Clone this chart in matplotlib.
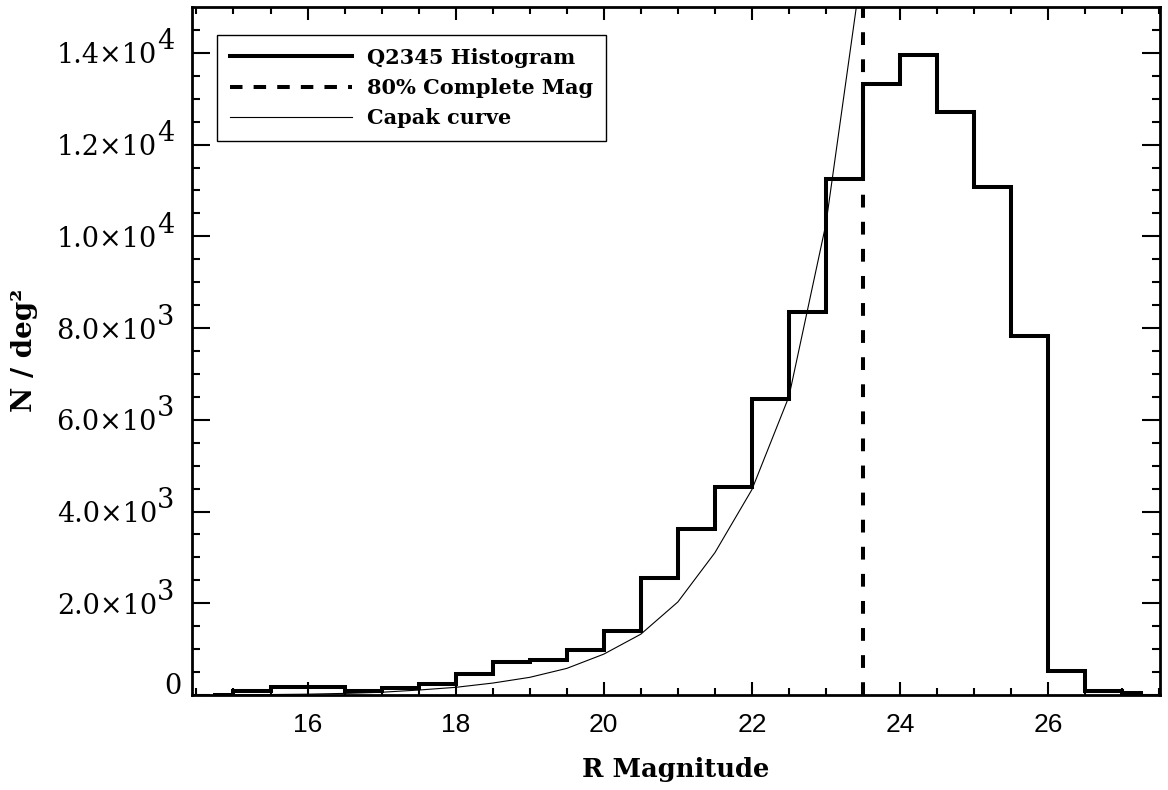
import matplotlib
matplotlib.use("Agg")
import matplotlib.pyplot as plt
from matplotlib.lines import Line2D
from matplotlib.transforms import ScaledTranslation

# ---------------- data ----------------
mag_centers = [14.75, 15.25, 15.75, 16.25, 16.75, 17.25, 17.75, 18.25, 18.75,
               19.25, 19.75, 20.25, 20.75, 21.25, 21.75, 22.25, 22.75, 23.25,
               23.75, 24.25, 24.75, 25.25, 25.75, 26.25, 26.75, 27.25]
counts = [0, 80, 165, 165, 90, 160, 239, 456, 724,
          767, 975, 1390, 2543, 3630, 4528, 6450, 8355, 11260,
          13320, 13957, 12717, 11072, 7830, 528, 80, 40]

capak_mag = [15.0, 15.5, 16.0, 16.5, 17.0, 17.5, 18.0, 18.5, 19.0, 19.5,
             20.0, 20.5, 21.0, 21.5, 22.0, 22.5, 23.0, 23.5]
capak_n = [5, 10, 18, 35, 60, 108, 167, 260, 385, 580,
           891, 1326, 2028, 3102, 4478, 6507, 10275, 16040]

complete_mag = 23.5

xtick_values = [16, 18, 20, 22, 24, 26]
ytick_values = [0, 2000, 4000, 6000, 8000, 10000, 12000, 14000]
ytick_mantissa = ["0", "2.0×10", "4.0×10", "6.0×10", "8.0×10", "1.0×10", "1.2×10", "1.4×10"]
ytick_exponent = ["", "3", "3", "3", "3", "4", "4", "4"]

legend_labels = ["Q2345 Histogram", "80% Complete Mag", "Capak curve"]

# ---------------- figure ----------------
W, H = 1168, 790
fig = plt.figure(figsize=(W / 100, H / 100), dpi=100)
ax = fig.add_axes([192 / W, 1 - 695 / H, 968 / W, 688 / H])

plt.rcParams["lines.scale_dashes"] = False

ax.step(mag_centers, counts, where="mid", color="black", lw=2.9,
        solid_joinstyle="miter")
ax.plot(capak_mag, capak_n, color="black", lw=0.8)
ax.axvline(complete_mag, color="black", lw=2.9, dashes=(9.2, 10.3))

ax.set_xlim(14.44, 27.51)
ax.set_ylim(0, 15000)

for s in ax.spines.values():
    s.set_linewidth(2.0)

ax.set_xticks(xtick_values)
ax.set_xticks([v / 2 for v in range(29, 56)], minor=True)
ax.set_yticks(ytick_values)
ax.set_yticks(list(range(500, 15000, 500)), minor=True)
ax.tick_params(which="both", direction="in", top=True, right=True, width=1.5)
ax.tick_params(axis="x", which="major", length=9.4, pad=13)
ax.tick_params(axis="x", which="minor", length=5)
ax.tick_params(axis="y", which="major", length=12.7)
ax.tick_params(axis="y", which="minor", length=6)
ax.set_xticklabels([str(v) for v in xtick_values], fontsize=19,
                   family="Liberation Sans")
ax.set_yticklabels([])

# y tick labels with full-size exponent (IDL style)
ytr = ax.get_yaxis_transform()
for v, m, e in zip(ytick_values, ytick_mantissa, ytick_exponent):
    if e:
        ax.text(0, v, m, ha="right", va="center", fontsize=19.5, family="DejaVu Serif",
                transform=ytr + ScaledTranslation(-35 / 100, -3 / 100, fig.dpi_scale_trans))
        ax.text(0, v, e, ha="left", va="center", fontsize=19.5, family="DejaVu Serif",
                transform=ytr + ScaledTranslation(-35 / 100, 11 / 100, fig.dpi_scale_trans))
    else:
        ax.text(0, v, m, ha="right", va="center", fontsize=19.5, family="DejaVu Serif",
                transform=ytr + ScaledTranslation(-10 / 100, 9 / 100, fig.dpi_scale_trans))

fig.text(676 / W, 1 - 777 / H, "R Magnitude", ha="center", va="baseline",
         fontsize=18.5, family="DejaVu Serif", fontweight="bold")
fig.text(25 / W, 1 - 350 / H, "N / deg²", ha="center", va="center", rotation=90,
         fontsize=20, family="DejaVu Serif", fontweight="bold")

handles = [Line2D([], [], color="black", lw=2.9),
           Line2D([], [], color="black", lw=2.9, dashes=(9, 8)),
           Line2D([], [], color="black", lw=0.8)]
leg = ax.legend(handles, legend_labels, loc="upper left",
                bbox_to_anchor=((217 - 192) / 968, (695 - 35) / 688),
                prop={"family": "DejaVu Serif", "weight": "bold", "size": 15},
                frameon=True, fancybox=False, edgecolor="black", framealpha=1,
                borderpad=0.6, labelspacing=0.5, handlelength=5.9,
                handletextpad=0.72, borderaxespad=0)
leg.get_frame().set_linewidth(1.0)

fig.savefig("out.png", dpi=100)
